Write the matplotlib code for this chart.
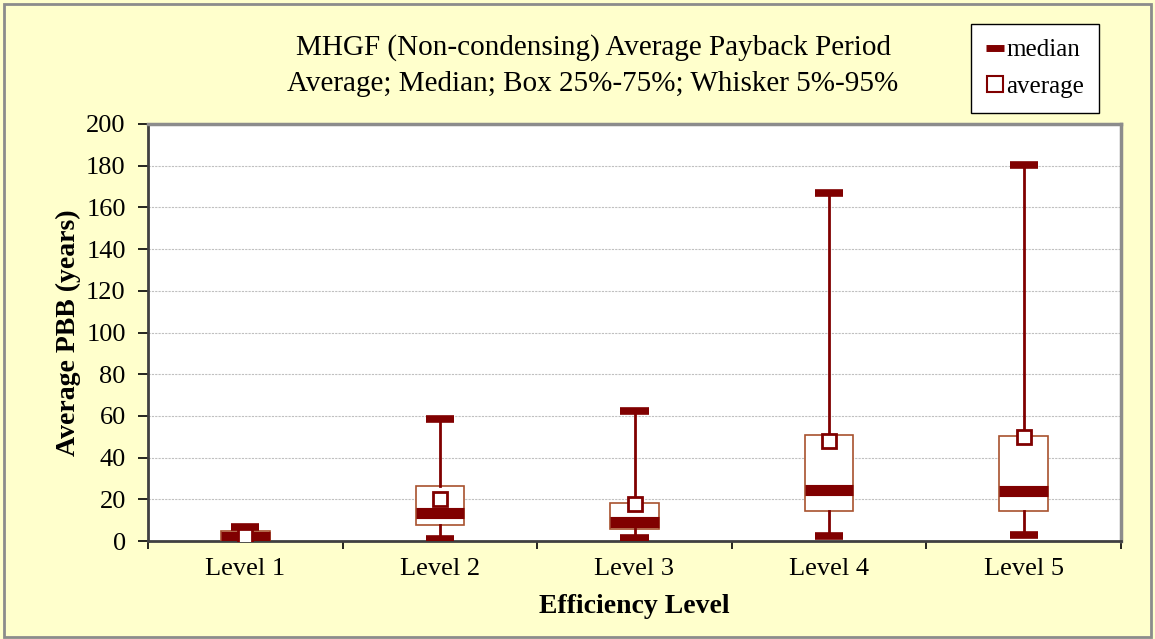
import matplotlib
matplotlib.use("Agg")
import matplotlib.pyplot as plt
from matplotlib.lines import Line2D
from matplotlib.patches import Rectangle

plt.rcParams["font.family"] = ["Liberation Serif", "DejaVu Serif"]

# data (years)
levels = ["Level 1", "Level 2", "Level 3", "Level 4", "Level 5"]
p5 = [0.0, 1.0, 1.3, 2.6, 2.7]
p25 = [0.2, 7.5, 5.8, 14.6, 14.4]
median = [1.8, 13.6, 9.1, 24.5, 23.9]
p75 = [5.0, 26.6, 18.1, 50.8, 50.3]
p95 = [6.9, 58.6, 62.5, 167.0, 180.5]
average = [2.4, 20.0, 17.6, 48.2, 49.9]

dark_red = "#800000"
box_edge = "#A8522E"

stats = []
for i in range(len(levels)):
    stats.append({
        "label": levels[i],
        "whislo": p5[i], "q1": p25[i], "med": median[i],
        "q3": p75[i], "whishi": p95[i], "mean": average[i],
    })

fig = plt.figure(figsize=(11.55, 6.39), dpi=100, facecolor="#FFFFCC")
ax = fig.add_axes([148 / 1155, 1 - 541 / 639, (1121 - 148) / 1155, (541 - 124) / 639])
ax.set_facecolor("white")

ax.bxp(stats, positions=range(1, 6), widths=0.25, capwidths=0.145,
       showmeans=True, showfliers=False, patch_artist=True,
       boxprops=dict(facecolor="white", edgecolor=box_edge, linewidth=1.2),
       whiskerprops=dict(color=dark_red, linewidth=2),
       capprops=dict(color=dark_red, linewidth=5.5, solid_capstyle="butt"),
       medianprops=dict(color=dark_red, linewidth=8, solid_capstyle="butt"),
       meanprops=dict(marker="s", markersize=10, markerfacecolor="white",
                      markeredgecolor=dark_red, markeredgewidth=2),
       zorder=3)

ax.set_xlim(0.5, 5.5)
ax.set_ylim(0, 200)
ax.set_yticks(range(0, 201, 20))
ax.grid(axis="y", color="#C0C0C0", linestyle=(0, (2, 1)), linewidth=0.8, zorder=0)
ax.set_axisbelow(True)

# ticks on the category borders, labels in the middle
ax.set_xticks([0.5, 1.5, 2.5, 3.5, 4.5, 5.5])
ax.set_xticklabels([])
ax.set_xticks(range(1, 6), minor=True)
ax.set_xticklabels(levels, minor=True)
ax.tick_params(axis="x", which="minor", length=0, labelsize=19, pad=12)
ax.tick_params(axis="x", which="major", length=6, width=1.2, direction="out")
ax.tick_params(axis="y", length=7, width=1.2, direction="out", labelsize=19, pad=9)

for side in ["left", "bottom"]:
    ax.spines[side].set_color("#404040")
    ax.spines[side].set_linewidth(2)
for side in ["top", "right"]:
    ax.spines[side].set_color("#8C8C8C")
    ax.spines[side].set_linewidth(2.5)

ax.set_xlabel("Efficiency Level", fontsize=20, fontweight="bold", labelpad=10)
ax.set_ylabel("Average PBB (years)", fontsize=20, fontweight="bold", labelpad=4)

fig.text(593 / 1155, 1 - 48 / 639, "MHGF (Non-condensing) Average Payback Period",
         ha="center", va="center", fontsize=21)
fig.text(593 / 1155, 1 - 84 / 639, "Average; Median; Box 25%-75%; Whisker 5%-95%",
         ha="center", va="center", fontsize=21)

handles = [
    Line2D([], [], color=dark_red, linewidth=5, solid_capstyle="butt"),
    Line2D([], [], linestyle="none", marker="s", markersize=12,
           markerfacecolor="white", markeredgecolor=dark_red, markeredgewidth=1.5),
]
leg = fig.legend(handles, ["median", "average"], loc="upper left",
                 bbox_to_anchor=(971 / 1155, 1 - 24 / 639), fontsize=18,
                 frameon=True, fancybox=False, edgecolor="black", facecolor="white",
                 framealpha=1, handlelength=0.7, handletextpad=0.1,
                 borderpad=0.6, labelspacing=0.55, borderaxespad=0)
leg.get_frame().set_linewidth(1)

fig.patches.append(Rectangle((4 / 1155, 2 / 639), 1147 / 1155, 633 / 639,
                             transform=fig.transFigure, fill=False,
                             edgecolor="#8C8C8C", linewidth=2))

fig.savefig("out.png", dpi=100, facecolor=fig.get_facecolor())
